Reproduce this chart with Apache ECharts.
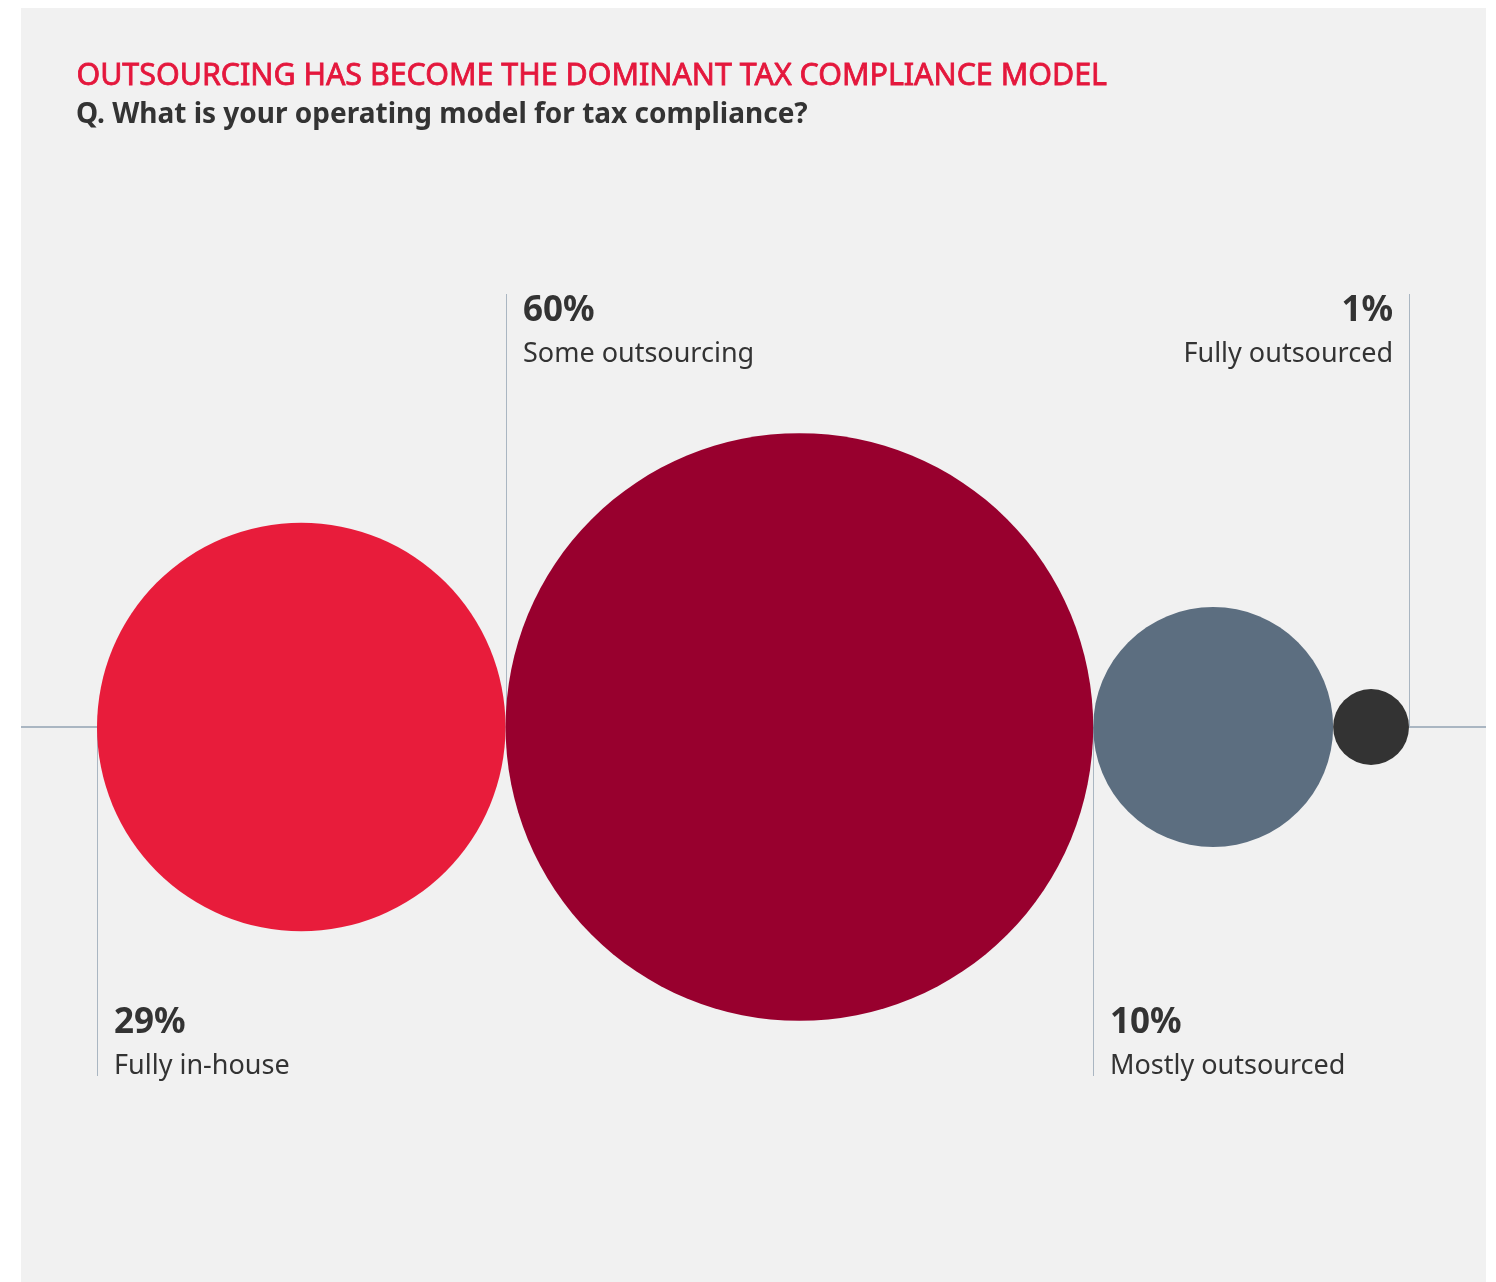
<!DOCTYPE html>
<html>
<head>
<meta charset="utf-8">
<title>Tax compliance operating model</title>
<script src="https://cdn.jsdelivr.net/npm/echarts@6/dist/echarts.min.js"></script>
<style>
  html, body { margin: 0; padding: 0; background: #ffffff; }
  #chart { width: 1496px; height: 1282px; }
</style>
</head>
<body>
<div id="chart"></div>
<script>
// Survey answers: share of respondents per operating model (%)
const categories = ['Fully in-house', 'Some outsourcing', 'Mostly outsourced', 'Fully outsourced'];
const shares = [29, 60, 10, 1];
const colors = ['#e81c3b', '#98002e', '#5c6e80', '#333333'];

const titleText = 'OUTSOURCING HAS BECOME THE DOMINANT TAX COMPLIANCE MODEL';
const subtitleText = 'Q. What is your operating model for tax compliance?';

// Circle area is proportional to the share: radius = sqrt(share) in axis units.
// Circles sit side by side along the horizontal axis, touching each other.
const radii = shares.map(v => Math.sqrt(v));
const centers = [];
let cursor = 0;
radii.forEach(r => { centers.push(cursor + r); cursor += 2 * r; });
const totalWidth = cursor;
const maxRadius = Math.max(...radii);

const FONT = '"Noto Sans", "Open Sans", sans-serif';
const RULE = '#aab6c2';
const TITLE_RED = '#e4173c';
const PANEL = { x: 21, y: 8, w: 1465, h: 1274 };

const seriesData = shares.map((v, i) => ({
  name: categories[i],
  value: [centers[i], 0, radii[i], v, i]
}));

function renderItem(params, api) {
  const idx = api.value(4);
  const share = api.value(3);
  const c = api.coord([api.value(0), api.value(1)]);
  const r = api.size([api.value(2), 0])[0];
  const last = idx === shares.length - 1;
  const below = idx % 2 === 0;            // labels alternate below / above the axis
  const edgeX = Math.round(last ? c[0] + r : c[0] - r); // leader line sits on a circle edge
  const children = [];

  // baseline stubs outside the row of circles
  if (idx === 0) {
    children.push({ type: 'line', shape: { x1: PANEL.x, y1: c[1], x2: c[0] - r, y2: c[1] },
      style: { stroke: RULE, lineWidth: 2 }, z2: 0 });
  }
  if (last) {
    children.push({ type: 'line', shape: { x1: c[0] + r, y1: c[1], x2: PANEL.x + PANEL.w, y2: c[1] },
      style: { stroke: RULE, lineWidth: 2 }, z2: 0 });
  }

  // leader line
  const lineEnd = below ? c[1] + 349 : c[1] - 433;
  children.push({ type: 'line', shape: { x1: edgeX + 0.5, y1: c[1], x2: edgeX + 0.5, y2: lineEnd },
    style: { stroke: RULE, lineWidth: 1 }, z2: 0 });

  // the bubble itself
  children.push({ type: 'circle', shape: { cx: c[0], cy: c[1], r: r },
    style: { fill: colors[idx] }, z2: 5 });

  // value + category label
  const tx = last ? edgeX - 16 : edgeX + 17;
  const align = last ? 'right' : 'left';
  const pctY = below ? c[1] + 296 : c[1] - 416;
  children.push({ type: 'text', x: tx, y: pctY,
    style: { text: share + '%', font: 'bold 35px ' + FONT, fill: '#333333',
      textAlign: align, textVerticalAlign: 'middle' }, z2: 6 });
  children.push({ type: 'text', x: tx, y: pctY + 43,
    style: { text: categories[idx], font: '27px ' + FONT, fill: '#333333',
      textAlign: align, textVerticalAlign: 'middle' }, z2: 6 });

  return { type: 'group', children: children };
}

const chart = echarts.init(document.getElementById('chart'), null, { renderer: 'canvas' });
chart.setOption({
  backgroundColor: '#ffffff',
  animation: false,
  graphic: [
    { type: 'rect', z: -10, silent: true,
      shape: { x: PANEL.x, y: PANEL.y, width: PANEL.w, height: PANEL.h },
      style: { fill: '#f1f1f1' } },
    // medium-weight headline: regular face with a thin outline of the same red
    { type: 'text', z: 10, left: 76, top: 61,
      style: { text: titleText, font: '30.4px ' + FONT, fill: TITLE_RED,
        stroke: TITLE_RED, lineWidth: 0.8 } },
    { type: 'text', z: 10, left: 76, top: 101,
      style: { text: subtitleText, font: 'bold 28px ' + FONT, fill: '#333333' } }
  ],
  grid: { left: 97, right: 87, top: 433, bottom: 261 },
  xAxis: { type: 'value', min: 0, max: totalWidth, show: false },
  yAxis: { type: 'value', min: -maxRadius, max: maxRadius, show: false },
  series: [{
    type: 'custom',
    coordinateSystem: 'cartesian2d',
    renderItem: renderItem,
    data: seriesData,
    clip: false
  }]
});
</script>
</body>
</html>
